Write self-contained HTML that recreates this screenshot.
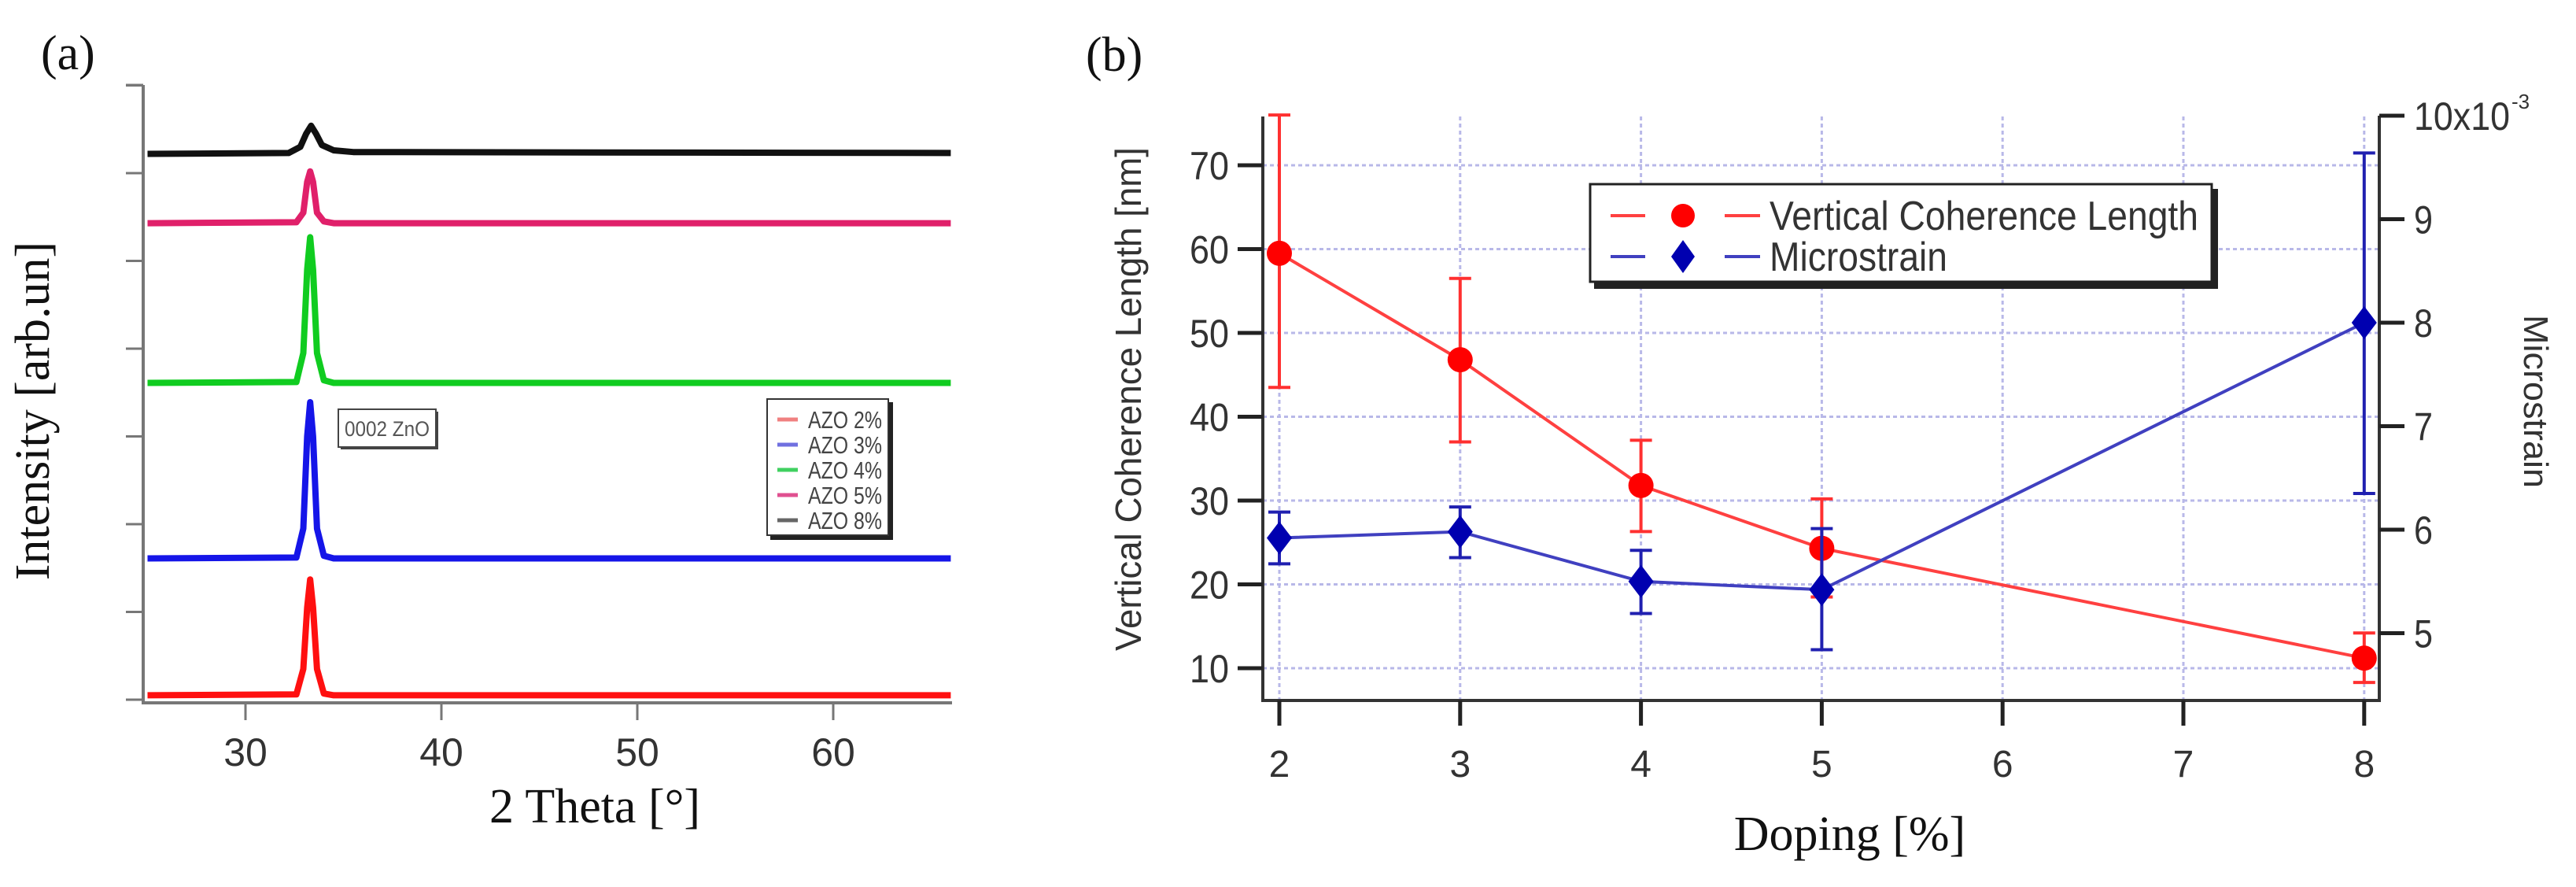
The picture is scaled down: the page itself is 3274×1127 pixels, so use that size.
<!DOCTYPE html>
<html><head><meta charset="utf-8"><style>
html,body{margin:0;padding:0;background:#fff;}
svg{display:block;}
</style></head><body>
<svg id="fig" xmlns="http://www.w3.org/2000/svg" width="3274" height="1127" viewBox="0 0 3274 1127">
<rect width="3274" height="1127" fill="#fff"/>
<g id="pa"></g>
<g id="pb"></g>
</svg>
<script>
// ---------- Panel (a) data ----------
const xrdTicksX = [30, 40, 50, 60];
const xrdNames = ["AZO 2%", "AZO 3%", "AZO 4%", "AZO 5%", "AZO 8%"];
const xrdColors = ["#ff1010", "#1515e8", "#10cc20", "#e0206a", "#111111"];
const xrdLegendColors = ["#f08080", "#7070e0", "#40d060", "#e05090", "#666666"];
const thetaSharp = [25, 32.6, 32.95, 33.15, 33.3, 33.45, 33.65, 34.0, 34.5, 66];
const thetaBroad = [25, 32.2, 32.8, 33.1, 33.35, 33.6, 33.9, 34.5, 35.5, 66];
const int2 = [0.05, 0.06, 0.35, 1.05, 1.37, 1.05, 0.35, 0.07, 0.05, 0.05];
const int3 = [1.61, 1.62, 1.95, 3.0, 3.39, 3.0, 1.95, 1.64, 1.61, 1.61];
const int4 = [3.61, 3.62, 3.95, 4.9, 5.27, 4.9, 3.95, 3.64, 3.61, 3.61];
const int5 = [5.43, 5.44, 5.55, 5.9, 6.02, 5.9, 5.55, 5.45, 5.43, 5.43];
const int8 = [6.22, 6.23, 6.3, 6.45, 6.54, 6.45, 6.32, 6.26, 6.24, 6.23];

// ---------- Panel (b) data ----------
const doping = [2, 3, 4, 5, 8];
const vcl = [59.5, 46.8, 31.8, 24.3, 11.2];
const vclHi = [76, 56.5, 37.2, 30.2, 14.2];
const vclLo = [43.5, 37, 26.3, 18.5, 8.3];
const strain = [5.92, 5.98, 5.50, 5.42, 8.0];
const strainHi = [6.17, 6.22, 5.80, 6.01, 9.64];
const strainLo = [5.67, 5.73, 5.19, 4.84, 6.35];
const xTicksB = [2, 3, 4, 5, 6, 7, 8];
const yTicksL = [10, 20, 30, 40, 50, 60, 70];
const yTicksR = [5, 6, 7, 8, 9, 10];
const yTickRLabels = ["5", "6", "7", "8", "9", "10x10"];

const NS = "http://www.w3.org/2000/svg";
function mk(parent, tag, attrs, text) {
  const e = document.createElementNS(NS, tag);
  for (const k in attrs) e.setAttribute(k, attrs[k]);
  if (text !== undefined) e.textContent = text;
  parent.appendChild(e);
  return e;
}
const SANS = '"Liberation Sans", Arial, sans-serif';
const SERIF = '"Liberation Serif", "Times New Roman", serif';

// ---------- Panel (a) ----------
(function () {
  const g = document.getElementById("pa");
  const xa = v => 312 + (v - 30) * 24.9;
  const ya = v => 889 - v * 111.5;
  let t = mk(g, "text", {x: 52, y: 88, "font-family": SERIF, "font-size": 62, fill: "#111"}, "(a)");
  
  
  let ax = mk(g, "path", {d: `M182 108 V893 H1210`, fill: "none", stroke: "#777", "stroke-width": 4});
  
  
  for (let i = 0; i <= 7; i++) {
    const tk = mk(g, "line", {x1: 160, x2: 182, y1: ya(i), y2: ya(i), stroke: "#777", "stroke-width": 3});
    
    
  }
  const tk0 = mk(g, "line", {x1: 160, x2: 182, y1: 108, y2: 108, stroke: "#777", "stroke-width": 3});
  
  
  xrdTicksX.forEach(v => {
    const tk = mk(g, "line", {x1: xa(v), x2: xa(v), y1: 893, y2: 915, stroke: "#777", "stroke-width": 3});
    
    
    const tl = mk(g, "text", {x: xa(v), y: 973, "text-anchor": "middle", "font-family": SANS, "font-size": 50, fill: "#333"}, String(v));
    
    
  });
  const xl = mk(g, "text", {x: 756, y: 1045, "text-anchor": "middle", "font-family": SERIF, "font-size": 62, fill: "#111"}, "2 Theta [°]");
  
  
  const yl = mk(g, "text", {x: 0, y: 0, transform: "translate(62,522) rotate(-90)", "text-anchor": "middle", "font-family": SERIF, "font-size": 62, fill: "#111"}, "Intensity [arb.un]");
  
  
  const series = [[thetaSharp, int2], [thetaSharp, int3], [thetaSharp, int4], [thetaSharp, int5], [thetaBroad, int8]];
  series.forEach((s, i) => {
    const d = s[0].map((x, j) => (j ? "L" : "M") + xa(x).toFixed(1) + " " + ya(s[1][j]).toFixed(1)).join(" ");
    const p = mk(g, "path", {d: d, fill: "none", stroke: xrdColors[i], "stroke-width": 8, "stroke-linejoin": "round"});
    
    
  });
  const ann = mk(g, "g", {});
  
  
  mk(ann, "rect", {x: 433, y: 523, width: 124, height: 48, fill: "#444"});
  mk(ann, "rect", {x: 430, y: 520, width: 124, height: 48, fill: "#fff", stroke: "#444", "stroke-width": 2});
  mk(ann, "text", {x: 438, y: 554, "font-family": SANS, "font-size": 27, fill: "#555", textLength: 108, lengthAdjust: "spacingAndGlyphs"}, "0002 ZnO");
  const lg = mk(g, "g", {});
  
  
  mk(lg, "rect", {x: 979, y: 511, width: 156, height: 175, fill: "#222"});
  mk(lg, "rect", {x: 975, y: 507, width: 154, height: 173, fill: "#fff", stroke: "#333", "stroke-width": 2});
  xrdNames.forEach((n, i) => {
    const y = 533 + i * 32;
    const e = mk(lg, "g", {});
    
    
    mk(e, "line", {x1: 988, x2: 1014, y1: y, y2: y, stroke: xrdLegendColors[i], "stroke-width": 5});
    mk(e, "text", {x: 1027, y: y + 11, "font-family": SANS, "font-size": 31, fill: "#444", textLength: 94, lengthAdjust: "spacingAndGlyphs"}, n);
  });
})();

// ---------- Panel (b) ----------
(function () {
  const g = document.getElementById("pb");
  const xb = v => 1626 + (v - 2) * 229.8;
  const yl = v => 849 - (v - 10) * 10.65;
  const yr = v => 147 + (10 - v) * 131.5;
  const t = mk(g, "text", {x: 1380, y: 90, "font-family": SERIF, "font-size": 62, fill: "#111"}, "(b)");
  
  
  yTicksL.forEach(v => {
    const gl = mk(g, "line", {x1: 1605, x2: 3024, y1: yl(v), y2: yl(v), stroke: "#b8b8e8", "stroke-width": 3, "stroke-dasharray": "5 4"});
    
    
  });
  xTicksB.forEach(v => {
    const gl = mk(g, "line", {x1: xb(v), x2: xb(v), y1: 148, y2: 890, stroke: "#b8b8e8", "stroke-width": 3, "stroke-dasharray": "5 4"});
    
    
  });
  const ax = mk(g, "path", {d: "M1605 148 V890 H3024 V147", fill: "none", stroke: "#333", "stroke-width": 4});
  
  
  yTicksL.forEach(v => {
    const tk = mk(g, "line", {x1: 1573, x2: 1605, y1: yl(v), y2: yl(v), stroke: "#222", "stroke-width": 5});
    
    
    const tl = mk(g, "text", {x: 1512, y: yl(v) + 18, "font-family": SANS, "font-size": 50, fill: "#333", textLength: 50, lengthAdjust: "spacingAndGlyphs"}, String(v));
    
    
  });
  yTicksR.forEach((v, i) => {
    const tk = mk(g, "line", {x1: 3024, x2: 3056, y1: yr(v), y2: yr(v), stroke: "#222", "stroke-width": 5});
    
    
    const tl = mk(g, "text", {x: 3068, y: yr(v) + 18, "font-family": SANS, "font-size": 50, fill: "#333", textLength: v === 10 ? 122 : 24, lengthAdjust: "spacingAndGlyphs"}, yTickRLabels[i]);
    
    
  });
  const exp = mk(g, "text", {x: 3192, y: 138, "font-family": SANS, "font-size": 26, fill: "#333"}, "-3");
  
  
  xTicksB.forEach(v => {
    const tk = mk(g, "line", {x1: xb(v), x2: xb(v), y1: 890, y2: 922, stroke: "#222", "stroke-width": 5});
    
    
    const tl = mk(g, "text", {x: xb(v), y: 987, "text-anchor": "middle", "font-family": SANS, "font-size": 48, fill: "#333"}, String(v));
    
    
  });
  const xt = mk(g, "text", {x: 2351, y: 1080, "text-anchor": "middle", "font-family": SERIF, "font-size": 62, fill: "#111"}, "Doping [%]");
  
  
  const ytl = mk(g, "text", {x: 0, y: 0, transform: "translate(1450,507) rotate(-90)", "text-anchor": "middle", "font-family": SANS, "font-size": 46, fill: "#333", textLength: 640, lengthAdjust: "spacingAndGlyphs"}, "Vertical Coherence Length [nm]");
  
  
  const ytr = mk(g, "text", {x: 0, y: 0, transform: "translate(3208,510) rotate(90)", "text-anchor": "middle", "font-family": SANS, "font-size": 44, fill: "#333", textLength: 220, lengthAdjust: "spacingAndGlyphs"}, "Microstrain");
  
  

  const rd = doping.map((d, i) => (i ? "L" : "M") + xb(d) + " " + yl(vcl[i])).join(" ");
  const rl = mk(g, "path", {d: rd, fill: "none", stroke: "#ff4040", "stroke-width": 4});
  
  
  doping.forEach((d, i) => {
    const x = xb(d);
    const eb = mk(g, "path", {d: `M${x} ${yl(vclHi[i])} V${yl(vclLo[i])} M${x-14} ${yl(vclHi[i])} H${x+14} M${x-14} ${yl(vclLo[i])} H${x+14}`, stroke: "#ff3030", "stroke-width": 4, fill: "none"});
    
    
    const c = mk(g, "circle", {cx: x, cy: yl(vcl[i]), r: 16, fill: "#f00"});
    
    
  });
  const bd = doping.map((d, i) => (i ? "L" : "M") + xb(d) + " " + yr(strain[i])).join(" ");
  const bl = mk(g, "path", {d: bd, fill: "none", stroke: "#4040c0", "stroke-width": 4});
  
  
  doping.forEach((d, i) => {
    const x = xb(d);
    const eb = mk(g, "path", {d: `M${x} ${yr(strainHi[i])} V${yr(strainLo[i])} M${x-14} ${yr(strainHi[i])} H${x+14} M${x-14} ${yr(strainLo[i])} H${x+14}`, stroke: "#2020b0", "stroke-width": 4, fill: "none"});
    
    
    const y = yr(strain[i]);
    const m = mk(g, "polygon", {points: `${x},${y-21} ${x+16},${y} ${x},${y+21} ${x-16},${y}`, fill: "#0000b0"});
    
    
  });
  const lg = mk(g, "g", {});
  
  
  mk(lg, "rect", {x: 2026, y: 240, width: 793, height: 127, fill: "#222"});
  mk(lg, "rect", {x: 2021, y: 234, width: 790, height: 124, fill: "#fff", stroke: "#222", "stroke-width": 3});
  const e1 = mk(lg, "g", {});
  
  
  mk(e1, "path", {d: "M2047 274 H2091 M2192 274 H2237", stroke: "#ff4040", "stroke-width": 4});
  mk(e1, "circle", {cx: 2139, cy: 274, r: 15, fill: "#f00"});
  mk(e1, "text", {x: 2249, y: 292, "font-family": SANS, "font-size": 52, fill: "#333", textLength: 545, lengthAdjust: "spacingAndGlyphs"}, "Vertical Coherence Length");
  const e2 = mk(lg, "g", {});
  
  
  mk(e2, "path", {d: "M2047 326 H2091 M2192 326 H2237", stroke: "#4040c0", "stroke-width": 4});
  mk(e2, "polygon", {points: "2139,305 2154,326 2139,347 2124,326", fill: "#0000b0"});
  mk(e2, "text", {x: 2249, y: 344, "font-family": SANS, "font-size": 52, fill: "#333", textLength: 226, lengthAdjust: "spacingAndGlyphs"}, "Microstrain");
})();
</script>
</body></html>
